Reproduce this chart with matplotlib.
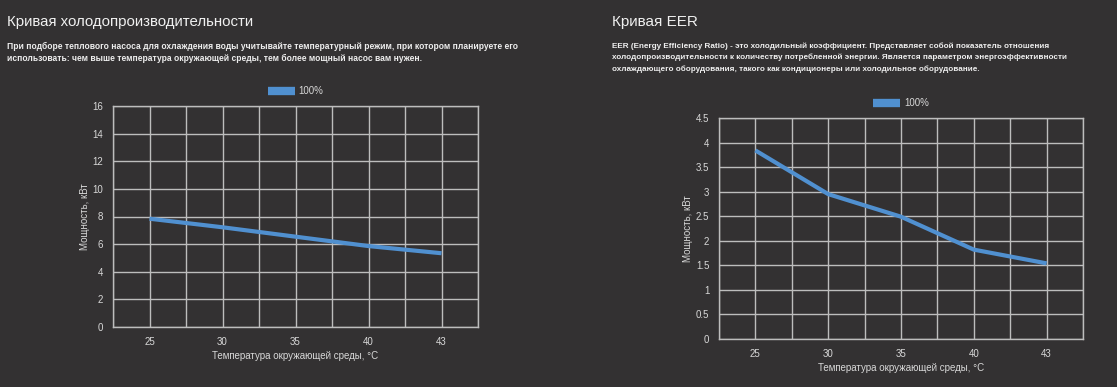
import matplotlib.pyplot as plt
import numpy as np

plt.rcParams['font.family'] = ['Liberation Sans', 'DejaVu Sans']

# data
temps = ['25', '30', '35', '40', '43']
capacity = [7.84, 7.22, 6.54, 5.86, 5.34]
eer = [3.84, 2.95, 2.49, 1.82, 1.54]

bg = '#333132'
grid_c = '#bdbdbd'
line_c = '#5090d0'
txt_c = '#d8d8d8'

fig = plt.figure(figsize=(11.17, 3.87), dpi=100)
fig.patch.set_facecolor(bg)

# headings
fig.text(7 / 1117, 1 - 22 / 387, 'Кривая холодопроизводительности', fontsize=10.8,
         color='#f0f0f0', va='center', ha='left')
fig.text(7 / 1117, 1 - 46 / 387,
         'При подборе теплового насоса для охлаждения воды учитывайте температурный режим, при котором планируете его',
         fontsize=6.15, fontweight='bold', color='#eeeeee', va='center', ha='left')
fig.text(7 / 1117, 1 - 58 / 387,
         'использовать: чем выше температура окружающей среды, тем более мощный насос вам нужен.',
         fontsize=6.15, fontweight='bold', color='#eeeeee', va='center', ha='left')

fig.text(612 / 1117, 1 - 22 / 387, 'Кривая EER', fontsize=11,
         color='#f0f0f0', va='center', ha='left')
eer_desc = ['EER (Energy Efficiency Ratio) - это холодильный коэффициент. Представляет собой показатель отношения',
            'холодопроизводительности к количеству потребленной энергии. Является параметром энергоэффективности',
            'охлаждающего оборудования, такого как кондиционеры или холодильное оборудование.']
for i, s in enumerate(eer_desc):
    fig.text(612 / 1117, 1 - (46 + 11.5 * i) / 387, s, fontsize=5.9, fontweight='bold',
             color='#eeeeee', va='center', ha='left')


def draw(rect, values, ymax, ystep, yfmt, leg_y, xlab_y):
    ax = fig.add_axes(rect)
    ax.set_facecolor(bg)
    x = np.arange(len(temps))
    ax.plot(x, values, color=line_c, lw=3, solid_capstyle='butt', label='100%')
    ax.set_xlim(-0.5, len(temps) - 0.5)
    ax.set_ylim(0, ymax)
    ax.set_xticks(x)
    ax.set_xticklabels(temps)
    ax.set_xticks(np.arange(-0.5, len(temps), 0.5), minor=True)
    yt = np.arange(0, ymax + ystep / 2, ystep)
    ax.set_yticks(yt)
    ax.set_yticklabels([yfmt(v) for v in yt])
    ax.grid(True, which='both', axis='x', color=grid_c, lw=1)
    ax.grid(True, axis='y', color=grid_c, lw=1)
    ax.set_axisbelow(True)
    for sp in ax.spines.values():
        sp.set_color(grid_c)
        sp.set_linewidth(1)
    ax.tick_params(which='both', length=0, colors=txt_c, labelsize=7, pad=7)
    ax.set_ylabel('Мощность, кВт', color=txt_c, fontsize=7, labelpad=2)
    ax.text(0.5, xlab_y, 'Температура окружающей среды, °С', transform=ax.transAxes,
            color=txt_c, fontsize=7, ha='center', va='center')
    leg = ax.legend(loc='lower center', bbox_to_anchor=(0.5, leg_y), frameon=False,
                    handlelength=2.8, handleheight=0.5, fontsize=7, labelcolor=txt_c,
                    handletextpad=0.4, borderpad=0)
    for h in leg.legend_handles:
        h.set_linewidth(6)
    return ax


draw([113 / 1117, 1 - 327 / 387, 365 / 1117, 221 / 387], capacity, 16, 2,
     lambda v: f'{int(v)}', 1.025, -0.13)
draw([719 / 1117, 1 - 339 / 387, 364 / 1117, 221 / 387], eer, 4.5, 0.5,
     lambda v: f'{v:g}', 1.025, -0.13)

fig.savefig('out.png', dpi=100, facecolor=bg)
